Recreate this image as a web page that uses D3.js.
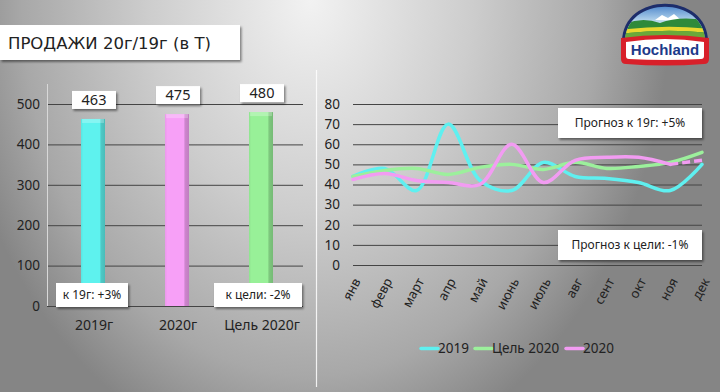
<!DOCTYPE html>
<html>
<head>
<meta charset="utf-8">
<script src="https://cdn.jsdelivr.net/npm/d3@7"></script>
<style>
  body { margin: 0; padding: 0; }
  svg { display: block; font-family: "Noto Sans", sans-serif; }
</style>
</head>
<body>
<svg id="chart" width="720" height="392"></svg>
<script>
// ---- data ----
const barCategories = ["2019г", "2020г", "Цель 2020г"];
const barValues = [463, 475, 480];
const barColors = ["#5ef2ee", "#f7a0f7", "#98f098"];
const barTicks = [0, 100, 200, 300, 400, 500];

const months = ["янв", "февр", "март", "апр", "май", "июнь", "июль", "авг", "сент", "окт", "ноя", "дек"];
const sales2019 = [44, 48, 37, 70, 42, 37, 51, 44, 43, 41, 37, 50];
const target2020 = [44, 47, 48, 45, 48.5, 50, 47.5, 51, 48, 49, 51, 56];
const sales2020 = [42.5, 45.5, 42, 41, 40, 60, 41, 52, 53.5, 53.5, 50, 52];
const lineTicks = [0, 10, 20, 30, 40, 50, 60, 70, 80];
const lineSeries = [
    {name: "2019", values: sales2019, color: "#5ff0f0"},
    {name: "Цель 2020", values: target2020, color: "#9cf09c"},
    {name: "2020", values: sales2020, color: "#f29cf2"}
];

const svg = d3.select("#chart");
const defs = svg.append("defs");

// background gradient
const bg = defs.append("radialGradient")
    .attr("id", "bg")
    .attr("gradientUnits", "userSpaceOnUse")
    .attr("cx", 310).attr("cy", 0).attr("r", 1)
    .attr("gradientTransform", "translate(310,0) scale(360,470) translate(-310,0)");
bg.append("stop").attr("offset", "0").attr("stop-color", "#f2f2f2");
bg.append("stop").attr("offset", "0.45").attr("stop-color", "#cdcdcd");
bg.append("stop").attr("offset", "0.8").attr("stop-color", "#a8a8a8");
bg.append("stop").attr("offset", "1").attr("stop-color", "#858585");
svg.append("rect").attr("width", 720).attr("height", 392).attr("fill", "url(#bg)");

const shadow = defs.append("filter").attr("id", "shadow")
    .attr("x", "-20%").attr("y", "-20%").attr("width", "140%").attr("height", "160%");
shadow.append("feDropShadow").attr("dx", 1.5).attr("dy", 2).attr("stdDeviation", 1.2)
    .attr("flood-color", "#000").attr("flood-opacity", 0.45);

// title
svg.append("rect").attr("x", 0).attr("y", 25).attr("width", 240).attr("height", 35)
    .attr("fill", "#fff").attr("filter", "url(#shadow)");
svg.append("text").attr("x", 8).attr("y", 49).attr("font-size", 16.5).attr("fill", "#222")
    .attr("font-family", "DejaVu Sans")
    .text("ПРОДАЖИ 20г/19г (в Т)");

// divider
svg.append("line").attr("x1", 316.5).attr("x2", 316.5).attr("y1", 70).attr("y2", 387)
    .attr("stroke", "#fff").attr("stroke-width", 1.2).attr("opacity", 0.85);

// ---- left bar chart ----
const xBar = d3.scalePoint().domain(barCategories).range([51, 303]).padding(0.5);
const yBar = d3.scaleLinear().domain([0, 500]).range([306, 104]);
const left = svg.append("g");

left.append("g")
    .attr("transform", "translate(47,0)")
    .call(d3.axisLeft(yBar).tickValues(barTicks).tickSize(-256).tickPadding(7))
    .call(g => g.select(".domain").remove())
    .call(g => g.selectAll(".tick line").attr("stroke", "#444").attr("stroke-width", 1))
    .call(g => g.selectAll(".tick text").attr("font-size", 13.5).attr("fill", "#222")
        .attr("font-family", "Noto Sans"));
left.append("line").attr("x1", 47.5).attr("x2", 47.5).attr("y1", 84).attr("y2", 306)
    .attr("stroke", "#d8d8d8").attr("stroke-width", 1);

barColors.forEach((c, i) => {
    const gr = defs.append("linearGradient").attr("id", "bar" + i)
        .attr("x1", 0).attr("x2", 1).attr("y1", 0).attr("y2", 0);
    gr.append("stop").attr("offset", "0").attr("stop-color", d3.color(c).darker(0.15));
    gr.append("stop").attr("offset", "0.1").attr("stop-color", c);
    gr.append("stop").attr("offset", "0.8").attr("stop-color", c);
    gr.append("stop").attr("offset", "0.82").attr("stop-color", d3.color(c).darker(0.5));
    gr.append("stop").attr("offset", "1").attr("stop-color", d3.color(c).darker(0.7));
});

const barW = 24;
left.selectAll(".bar").data(barValues).join("rect")
    .attr("class", "bar")
    .attr("x", (d, i) => xBar(barCategories[i]) - barW / 2)
    .attr("y", d => yBar(d))
    .attr("width", barW)
    .attr("height", d => yBar(0) - yBar(d))
    .attr("fill", (d, i) => "url(#bar" + i + ")");
left.selectAll(".bartop").data(barValues).join("rect")
    .attr("x", (d, i) => xBar(barCategories[i]) - barW / 2 + 1)
    .attr("y", d => yBar(d))
    .attr("width", barW - 2)
    .attr("height", 4)
    .attr("fill", "#fff").attr("opacity", 0.25);

// value labels
const valG = left.selectAll(".val").data(barValues).join("g")
    .attr("transform", (d, i) => `translate(${xBar(barCategories[i]) + 1},${yBar(d) - 19})`);
valG.append("rect").attr("x", -22).attr("y", -9).attr("width", 44).attr("height", 18)
    .attr("fill", "#fff").attr("filter", "url(#shadow)");
valG.append("text").attr("text-anchor", "middle").attr("dy", "0.36em")
    .attr("font-size", 14.5).attr("fill", "#222").text(d => d);

// category labels
left.selectAll(".cat").data(barCategories).join("text")
    .attr("x", d => xBar(d) + 1).attr("y", 330)
    .attr("text-anchor", "middle").attr("font-size", 14).attr("fill", "#222")
    .text(d => d);

// notes
const notes = [
    {x: 56, w: 72, text: "к 19г: +3%"},
    {x: 214, w: 88, text: "к цели: -2%"}
];
notes.forEach(n => {
    svg.append("rect").attr("x", n.x).attr("y", 283).attr("width", n.w).attr("height", 24)
        .attr("fill", "#fff").attr("filter", "url(#shadow)");
    svg.append("text").attr("x", n.x + n.w / 2).attr("y", 295).attr("dy", "0.35em")
        .attr("text-anchor", "middle").attr("font-size", 12).attr("fill", "#222").text(n.text);
});

// ---- right line chart ----
const xLine = d3.scalePoint().domain(months).range([353, 702]);
const yLine = d3.scaleLinear().domain([0, 80]).range([265, 104]);
const right = svg.append("g");

right.append("g")
    .attr("transform", "translate(353,0)")
    .call(d3.axisLeft(yLine).tickValues(lineTicks).tickSize(-349).tickPadding(13))
    .call(g => g.select(".domain").remove())
    .call(g => g.selectAll(".tick line").attr("stroke", "#444").attr("stroke-width", 1))
    .call(g => g.selectAll(".tick text").attr("font-size", 13.5).attr("fill", "#222")
        .attr("font-family", "Noto Sans"));

right.selectAll(".month").data(months).join("text")
    .attr("transform", d => `translate(${xLine(d) + 4},279) rotate(-62)`)
    .attr("text-anchor", "end").attr("dy", "0.35em")
    .attr("font-size", 13).attr("fill", "#222")
    .text(d => d);

const line = d3.line()
    .x((d, i) => xLine(months[i]))
    .y(d => yLine(d))
    .curve(d3.curveCatmullRom.alpha(0.5));

lineSeries.forEach(s => {
    const vals = s.name === "2020" ? s.values.slice(0, 11) : s.values;
    right.append("path").datum(vals)
        .attr("d", line)
        .attr("fill", "none").attr("stroke", s.color)
        .attr("stroke-width", 3.5).attr("stroke-linecap", "round");
});
// dashed last segment of 2020 (forecast)
const lastTwo = sales2020.slice(10);
right.append("path")
    .datum(lastTwo)
    .attr("d", d3.line().x((d, i) => xLine(months[10 + i])).y(d => yLine(d)))
    .attr("fill", "none").attr("stroke", "#f29cf2")
    .attr("stroke-width", 3.5).attr("stroke-dasharray", "8,4");

// forecast boxes
const boxes = [
    {y: 108, text: "Прогноз к 19г: +5%"},
    {y: 230, text: "Прогноз к цели: -1%"}
];
boxes.forEach(b => {
    svg.append("rect").attr("x", 558).attr("y", b.y).attr("width", 144).attr("height", 30)
        .attr("fill", "#fff").attr("filter", "url(#shadow)");
    svg.append("text").attr("x", 630).attr("y", b.y + 15).attr("dy", "0.35em")
        .attr("text-anchor", "middle").attr("font-size", 12).attr("fill", "#222").text(b.text);
});

// legend
const legendX = [421, 475, 566];
const legend = svg.selectAll(".legend").data(lineSeries).join("g")
    .attr("transform", (d, i) => `translate(${legendX[i]},348)`);
legend.append("line").attr("x1", 0).attr("x2", 17).attr("y1", 0.5).attr("y2", 0.5)
    .attr("stroke", d => d.color).attr("stroke-width", 3.5).attr("stroke-linecap", "round");
legend.append("text").attr("x", 17).attr("dy", "0.35em")
    .attr("font-size", 13.5).attr("fill", "#222").text(d => d.name);

// ---- logo ----
const logo = svg.append("g");
const sky = defs.append("linearGradient").attr("id", "sky").attr("x1", 0).attr("x2", 0).attr("y1", 0).attr("y2", 1);
sky.append("stop").attr("offset", "0").attr("stop-color", "#2a6cc0");
sky.append("stop").attr("offset", "0.55").attr("stop-color", "#cfe8f5");
sky.append("stop").attr("offset", "1").attr("stop-color", "#ffffff");
logo.append("defs").append("clipPath").attr("id", "dome")
    .append("path").attr("d", "M625,42 C625,-5 705,-5 705,42 Z");
logo.append("path").attr("d", "M622,42 C622,-9 708,-9 708,42 Z").attr("fill", "#1d2d6b");
const dome = logo.append("g").attr("clip-path", "url(#dome)");
dome.append("rect").attr("x", 620).attr("y", 0).attr("width", 90).attr("height", 45).attr("fill", "url(#sky)");
dome.append("path").attr("d", "M655,20 L662,15 L668,18 L674,14 L682,21 Z").attr("fill", "#fff");
dome.append("path").attr("d", "M620,26 Q640,16 660,23 Q680,15 710,21 L710,45 L620,45 Z").attr("fill", "#2e8a3a");
dome.append("path").attr("d", "M620,30 Q665,24 710,29 L710,33 Q665,28 620,34 Z").attr("fill", "#e8d830");
dome.append("path").attr("d", "M620,34 Q665,28 710,33 L710,45 L620,45 Z").attr("fill", "#6aa83a");
logo.append("path")
    .attr("d", "M621,38 Q665,32 709,38 L709,59 Q709,64 704,64 Q665,67 626,64 Q621,64 621,59 Z")
    .attr("fill", "#d8202a");
logo.append("path")
    .attr("d", "M626,42 Q665,36 704,42 L704,56 Q704,59 701,59 Q665,61 629,59 Q626,59 626,56 Z")
    .attr("fill", "#fff");
logo.append("text").attr("x", 665).attr("y", 55).attr("text-anchor", "middle")
    .attr("font-size", 15).attr("font-weight", "bold").attr("fill", "#1d3a8a")
    .attr("font-family", "Liberation Sans, Arial, sans-serif")
    .text("Hochland");
</script>
</body>
</html>
